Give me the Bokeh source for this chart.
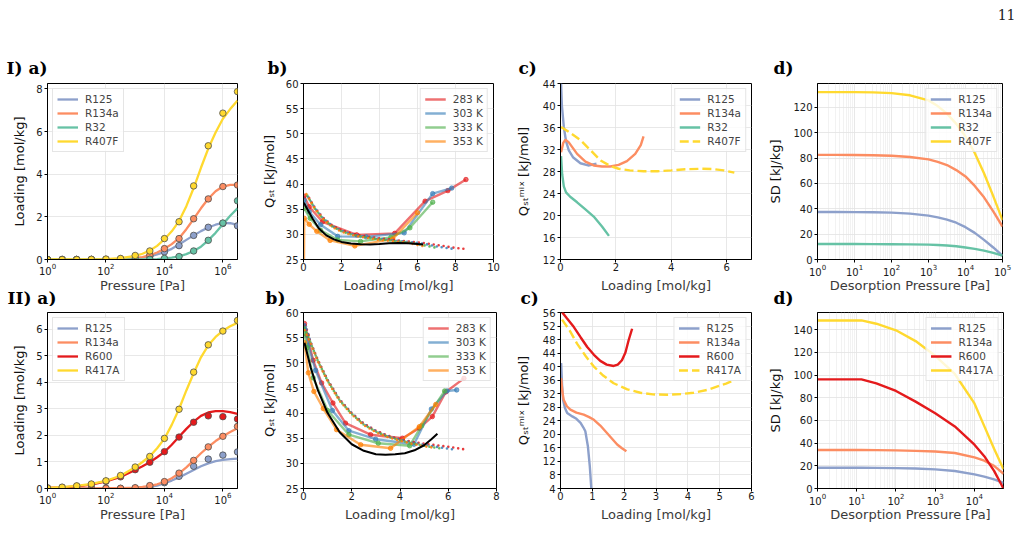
from bokeh.plotting import figure
from bokeh.models import Range1d, FixedTicker, Legend, LegendItem
from bokeh.core.properties import value
from bokeh.layouts import row, column
from bokeh.embed import file_html
from bokeh.resources import INLINE

FONT = "DejaVu Sans"
SERIF = "DejaVu Serif"

C_R125 = "#8da0cb"
C_R134A = "#fc8d62"
C_R32 = "#66c2a5"
C_BLEND = "#ffd92f"
C_R600 = "#e41a1c"
TEMP_COLORS = ["#e41a1c", "#377eb8", "#4daf4a", "#ff7f00"]
TEMP_LABELS = ["283 K", "303 K", "333 K", "353 K"]

# ---------------- isotherms (a) ----------------
LOGP_PTS = [0, 0.5, 1, 1.5, 2, 2.5, 3, 3.5, 4, 4.5, 5, 5.5, 6, 6.5]
LOGP_FIT = [0, 0.5, 1, 1.5, 2, 2.5, 3, 3.25, 3.5, 3.75, 4, 4.25, 4.5, 4.75,
            5, 5.25, 5.5, 5.75, 6, 6.25, 6.5]

I_R125_PTS = [0, 0, 0, 0, 0, 0.01, 0.04, 0.14, 0.36, 0.65, 1.13, 1.51, 1.69, 1.58]
I_R125_FIT = [0, 0, 0, 0, 0, 0.01, 0.05, 0.09, 0.15, 0.24, 0.35, 0.5, 0.7, 0.92,
              1.13, 1.33, 1.5, 1.63, 1.72, 1.7, 1.62]
I_R134A_PTS = [0, 0, 0, 0, 0, 0.01, 0.05, 0.2, 0.51, 0.98, 1.91, 2.84, 3.42, 3.49]
I_R134A_FIT = [0, 0, 0, 0, 0.01, 0.02, 0.06, 0.11, 0.2, 0.33, 0.5, 0.72, 1.0, 1.42,
               1.9, 2.4, 2.85, 3.2, 3.42, 3.5, 3.5]
I_R32_PTS = [0, 0, 0, 0, 0, 0, 0, 0.01, 0.05, 0.14, 0.40, 0.90, 1.71, 2.75]
I_R32_FIT = [0, 0, 0, 0, 0, 0, 0, 0, 0.01, 0.02, 0.05, 0.09, 0.15, 0.25,
             0.4, 0.6, 0.9, 1.25, 1.65, 2.05, 2.4]
I_R407F_PTS = [0, 0, 0, 0.01, 0.02, 0.05, 0.19, 0.40, 0.98, 1.77, 3.45, 5.33, 6.86, 7.87]
I_R407F_FIT = [0, 0, 0.01, 0.01, 0.02, 0.06, 0.17, 0.27, 0.42, 0.64, 0.95, 1.32, 1.8, 2.5,
               3.35, 4.3, 5.2, 5.95, 6.6, 7.05, 7.45]

II_R125_PTS = [0, 0, 0, 0, 0, 0, 0.01, 0.05, 0.22, 0.46, 0.84, 1.11, 1.26, 1.38]
II_R125_FIT = [0, 0, 0, 0, 0, 0, 0.01, 0.03, 0.06, 0.11, 0.2, 0.3, 0.42, 0.56,
               0.7, 0.84, 0.95, 1.03, 1.08, 1.11, 1.13]
II_R134A_PTS = [0, 0, 0, 0, 0.01, 0.01, 0.03, 0.11, 0.26, 0.58, 1.06, 1.57, 1.97, 2.34]
II_R134A_FIT = [0, 0, 0, 0, 0.01, 0.01, 0.03, 0.06, 0.1, 0.16, 0.25, 0.39, 0.57, 0.8,
                1.06, 1.33, 1.57, 1.79, 1.97, 2.13, 2.27]
II_R600_PTS = [0.02, 0.04, 0.08, 0.15, 0.27, 0.44, 0.71, 0.99, 1.39, 1.94, 2.5, 2.74, 2.71, 2.62]
II_R600_FIT = [0.02, 0.04, 0.08, 0.15, 0.27, 0.44, 0.7, 0.84, 0.99, 1.18, 1.38, 1.65, 1.95, 2.25,
               2.52, 2.74, 2.87, 2.92, 2.92, 2.88, 2.82]
II_R417A_PTS = [0.02, 0.05, 0.1, 0.17, 0.29, 0.49, 0.81, 1.21, 1.89, 2.99, 4.39, 5.42, 5.94, 6.34]
II_R417A_FIT = [0.02, 0.05, 0.1, 0.17, 0.29, 0.48, 0.8, 1.0, 1.22, 1.52, 1.88, 2.4, 3.0, 3.7,
                4.35, 4.95, 5.4, 5.72, 5.95, 6.12, 6.25]

# ---------------- isosteric heats (b) ----------------
I_T283_X = [0.03, 0.3, 1.0, 2.8, 4.8, 6.4, 7.6, 8.55]
I_T283_Y = [37.6, 35.5, 32.5, 29.9, 30.2, 36.6, 38.7, 40.9]
I_T303_X = [0.03, 0.3, 0.9, 1.8, 3.3, 5.3, 6.8, 7.8]
I_T303_Y = [36.8, 34.5, 31.9, 29.6, 29.5, 30.3, 38.1, 39.2]
I_T333_X = [0.03, 0.35, 0.9, 1.8, 3.0, 4.6, 5.6, 6.8]
I_T333_Y = [35.2, 33.2, 30.8, 28.9, 28.6, 29.4, 31.3, 36.4]
I_T353_X = [0.01, 0.04, 0.3, 0.7, 1.4, 2.7, 4.7, 6.0]
I_T353_Y = [15.0, 33.2, 32.0, 30.6, 28.8, 27.7, 29.1, 34.3]

I_F283_X = [0.3, 0.6, 1.0, 1.5, 2.0, 2.5, 3.0, 3.5, 4.0, 4.5, 5.0, 5.5, 6.0, 6.5, 7.0, 7.5, 8.0, 8.5]
I_F283_Y = [37.2, 35.3, 33.4, 31.8, 30.8, 30.2, 29.8, 29.5, 29.2, 29.0, 28.8, 28.6, 28.4, 28.2,
            27.9, 27.6, 27.3, 27.1]
I_F303_X = [0.25, 0.6, 1.0, 1.5, 2.0, 2.5, 3.0, 3.5, 4.0, 4.5, 5.0, 5.5, 6.0, 6.5, 7.0, 7.5, 7.9]
I_F303_Y = [37.4, 35.2, 33.3, 31.7, 30.7, 30.1, 29.7, 29.4, 29.1, 28.9, 28.7, 28.5, 28.3, 28.0,
            27.6, 27.3, 27.1]
I_F333_X = [0.2, 0.6, 1.0, 1.5, 2.0, 2.5, 3.0, 3.5, 4.0, 4.5, 5.0, 5.5, 6.0, 6.5, 6.9]
I_F333_Y = [37.7, 35.1, 33.2, 31.6, 30.6, 30.0, 29.6, 29.3, 29.0, 28.8, 28.6, 28.4, 28.1, 27.7, 27.4]
I_F353_X = [0.15, 0.6, 1.0, 1.5, 2.0, 2.5, 3.0, 3.5, 4.0, 4.5, 5.0, 5.5, 6.0, 6.4]
I_F353_Y = [38.0, 35.0, 33.1, 31.5, 30.5, 29.9, 29.5, 29.2, 28.9, 28.7, 28.5, 28.3, 27.9, 27.6]

I_MEAN_X = [0.02, 0.2, 0.5, 0.8, 1.2, 1.6, 2.0, 2.5, 3.0, 3.5, 4.0, 4.5, 5.0, 5.5, 6.0, 6.3]
I_MEAN_Y = [36.3, 35.0, 33.0, 31.2, 29.8, 29.0, 28.5, 28.2, 28.05, 28.0, 28.1, 28.25, 28.3,
            28.25, 28.1, 28.0]

II_T283_X = [0.04, 0.15, 0.4, 0.75, 1.22, 1.74, 2.78, 4.1, 4.8, 5.34, 5.9, 6.65]
II_T283_Y = [57.8, 55.5, 50.5, 46.0, 42.0, 38.0, 35.7, 35.0, 37.0, 39.3, 44.2, 46.9]
II_T303_X = [0.04, 0.2, 0.5, 1.2, 1.88, 2.99, 4.58, 5.3, 5.95, 6.35]
II_T303_Y = [57.2, 53.5, 48.5, 40.5, 36.5, 34.8, 33.8, 40.8, 44.4, 44.6]
II_T333_X = [0.04, 0.15, 0.4, 1.0, 1.88, 3.1, 4.4, 4.9, 5.85]
II_T333_Y = [55.8, 53.0, 47.0, 40.5, 35.7, 34.0, 33.5, 37.5, 44.4]
II_T353_X = [0.04, 0.2, 0.43, 0.82, 1.37, 2.37, 3.61, 4.8, 5.48]
II_T353_Y = [54.0, 48.0, 44.3, 40.9, 36.7, 33.7, 33.0, 37.3, 41.7]

II_F283_X = [0.08, 0.3, 0.6, 1.0, 1.5, 2.0, 2.5, 3.0, 3.5, 4.0, 4.5, 5.0, 5.5, 6.0, 6.65]
II_F283_Y = [57.5, 54.0, 50.5, 46.6, 42.7, 40.0, 37.9, 36.5, 35.5, 34.8, 34.3, 33.9, 33.6, 33.3, 32.8]
II_F303_X = [0.06, 0.3, 0.6, 1.0, 1.5, 2.0, 2.5, 3.0, 3.5, 4.0, 4.5, 5.0, 5.5, 6.0, 6.35]
II_F303_Y = [57.6, 54.0, 50.4, 46.5, 42.6, 39.9, 37.8, 36.4, 35.4, 34.7, 34.1, 33.7, 33.3, 32.9, 32.7]
II_F333_X = [0.05, 0.3, 0.6, 1.0, 1.5, 2.0, 2.5, 3.0, 3.5, 4.0, 4.5, 5.0, 5.5, 5.8]
II_F333_Y = [57.0, 53.9, 50.3, 46.4, 42.5, 39.8, 37.7, 36.3, 35.3, 34.6, 34.0, 33.5, 33.1, 32.9]
II_F353_X = [0.05, 0.3, 0.6, 1.0, 1.5, 2.0, 2.5, 3.0, 3.5, 4.0, 4.5, 5.0, 5.4]
II_F353_Y = [56.5, 53.8, 50.2, 46.3, 42.4, 39.7, 37.6, 36.2, 35.2, 34.5, 33.9, 33.4, 33.1]

II_MEAN_X = [0.04, 0.3, 0.6, 1.0, 1.5, 2.0, 2.5, 3.0, 3.4, 3.8, 4.2, 4.6, 5.0, 5.3, 5.55]
II_MEAN_Y = [54.0, 49.0, 44.5, 40.0, 36.2, 33.8, 32.5, 31.8, 31.7, 31.8, 32.0, 32.6, 33.6, 34.8, 35.9]

# ---------------- mixture heats (c) ----------------
I_QM_R125_X = [0.02, 0.05, 0.12, 0.2, 0.3, 0.45, 0.72, 1.0, 1.3]
I_QM_R125_Y = [44.0, 40.0, 36.1, 33.5, 31.85, 30.6, 29.5, 29.1, 29.4]
I_QM_R134A_X = [0.02, 0.1, 0.18, 0.3, 0.6, 0.9, 1.2, 1.5, 1.8, 2.1, 2.4, 2.7, 2.9, 3.0]
I_QM_R134A_Y = [31.5, 33.2, 33.8, 33.3, 31.2, 29.8, 29.1, 28.9, 28.9, 29.2, 29.9, 31.2, 32.8, 34.4]
I_QM_R32_X = [0.02, 0.06, 0.12, 0.2, 0.35, 0.6, 0.9, 1.2, 1.5, 1.75]
I_QM_R32_Y = [30.8, 27.5, 25.3, 24.2, 23.4, 22.4, 21.1, 19.8, 18.0, 16.3]
I_QM_R407F_X = [0.02, 0.3, 0.72, 1.1, 1.45, 1.8, 2.1, 2.5, 3.0, 3.5, 4.0, 4.5, 5.07, 5.5, 5.9, 6.28]
I_QM_R407F_Y = [36.1, 35.2, 33.7, 31.8, 30.0, 29.0, 28.5, 28.2, 28.05, 28.05, 28.2, 28.4, 28.5,
                28.45, 28.2, 27.8]

II_QM_R125_X = [0.02, 0.05, 0.08, 0.14, 0.21, 0.37, 0.5, 0.63, 0.72, 0.78, 0.86, 0.92, 0.97]
II_QM_R125_Y = [41.1, 34.5, 30.2, 27.8, 26.3, 25.3, 24.6, 23.4, 22.0, 20.9, 16.5, 10.6, 3.8]
II_QM_R134A_X = [0.02, 0.06, 0.1, 0.2, 0.31, 0.5, 0.73, 0.9, 1.05, 1.25, 1.46, 1.62, 1.78, 1.93, 2.07]
II_QM_R134A_Y = [36.6, 32.5, 30.2, 28.3, 27.3, 26.4, 25.8, 25.1, 24.3, 22.6, 20.4, 18.7, 17.0, 15.9, 15.0]
II_QM_R600_X = [0.05, 0.2, 0.42, 0.63, 0.84, 1.05, 1.25, 1.45, 1.67, 1.8, 1.93, 2.04, 2.14, 2.25]
II_QM_R600_Y = [56.1, 54.3, 51.7, 48.7, 45.8, 43.5, 41.7, 40.6, 40.2, 40.6, 41.9, 44.2, 47.8, 51.2]
II_QM_R417A_X = [0.05, 0.3, 0.52, 0.8, 1.05, 1.35, 1.67, 2.1, 2.51, 2.9, 3.34, 3.8, 4.18, 4.6, 4.91, 5.2, 5.44]
II_QM_R417A_Y = [53.9, 50.5, 46.8, 43.0, 40.0, 37.3, 35.1, 33.3, 32.3, 31.8, 31.7, 31.9, 32.3, 33.1,
                 34.1, 35.0, 35.9]

# ---------------- sorption-desorption heat (d) ----------------
LOGPD_I = [0, 0.5, 1, 1.5, 2, 2.5, 3, 3.25, 3.5, 3.75, 4, 4.25, 4.5, 4.75, 5]
I_SD_R125 = [37.5, 37.5, 37.4, 37.3, 37.0, 36.2, 34.6, 33.2, 31.5, 29.0, 25.5, 21.0, 15.5, 9.5, 3.0]
I_SD_R134A = [82.5, 82.5, 82.4, 82.2, 81.8, 80.8, 79.0, 77.0, 74.5, 70.5, 65.5, 58.0, 49.0, 38.0, 26.0]
I_SD_R32 = [12.2, 12.2, 12.2, 12.1, 12.0, 11.9, 11.7, 11.4, 11.0, 10.4, 9.5, 8.4, 7.0, 5.2, 3.0]
I_SD_R407F = [132, 132, 132, 131.8, 131.2, 129.5, 125.5, 121, 115, 107, 97, 84, 68, 50, 31]

LOGPD_II = [0, 0.5, 1, 1.12, 1.5, 2, 2.5, 3, 3.5, 4, 4.25, 4.5, 4.74]
II_SD_R125 = [18.3, 18.3, 18.3, 18.3, 18.2, 18.0, 17.6, 16.9, 15.4, 12.5, 10.5, 8.0, 5.0]
II_SD_R134A = [33.9, 33.9, 33.9, 33.9, 33.8, 33.6, 33.2, 32.6, 31.3, 27.5, 24.5, 20.0, 13.0]
II_SD_R600 = [96.2, 96.2, 96.2, 96.2, 92.7, 86.0, 76.6, 66.4, 54.7, 38.6, 28.5, 15.5, 0.0]
II_SD_R417A = [148.2, 148.2, 148.2, 148.2, 145.3, 139.5, 130, 117, 101, 75, 55, 35, 17]

DECADE_MINORS = [m * 10 ** k for k in range(0, 5) for m in range(2, 10)]

# ---------------- page geometry ----------------
PAGE_W = 1021
COL_W = [250, 255, 257, 259]
SIDES_I = [(47, 13), (53, 12), (55, 11), (55, 19)]
SIDES_II = [(47, 13), (53, 9), (55, 11), (55, 18)]
FRAME_H = 177
PAD_TOP, PAD_BOTTOM = 6, 18
TOP_STRIP_H, MID_STRIP_H, BOTTOM_STRIP_H = 77, 28, 48


def frame_centers(sides):
    centers, x0 = [], 0
    for w, (l, r) in zip(COL_W, sides):
        centers.append(x0 + l + (w - l - r) / 2)
        x0 += w
    return centers


def frame_lefts(sides):
    lefts, x0 = [], 0
    for w, (l, _) in zip(COL_W, sides):
        lefts.append(x0 + l)
        x0 += w
    return lefts


def pa(logs):
    return [10 ** v for v in logs]


def base_fig(col, sides, xr, yr, xticks, yticks, xlog=False, ylabel="",
             ylabel_standoff=6, minor=None):
    left, right = sides[col]
    p = figure(width=COL_W[col], height=PAD_TOP + FRAME_H + PAD_BOTTOM,
               x_range=Range1d(*xr), y_range=Range1d(*yr),
               x_axis_type="log" if xlog else "linear", output_backend="svg",
               toolbar_location=None, tools="", title=None,
               min_border_left=left, min_border_right=right,
               min_border_top=PAD_TOP, min_border_bottom=PAD_BOTTOM)
    p.outline_line_color = "black"
    p.outline_line_width = 1
    p.outline_line_alpha = 1
    p.background_fill_color = "white"
    p.border_fill_color = "white"
    p.xaxis.ticker = FixedTicker(ticks=xticks, minor_ticks=minor or [])
    p.yaxis.ticker = FixedTicker(ticks=yticks)
    for ax in p.axis:
        ax.axis_line_color = "black"
        ax.major_tick_in = 0
        ax.major_tick_out = 3
        ax.minor_tick_line_color = None
        ax.major_label_text_font = FONT
        ax.major_label_text_font_size = "10px"
        ax.major_label_text_color = "#1a1a1a"
        ax.axis_label_text_font = FONT
        ax.axis_label_text_font_size = "13px"
        ax.axis_label_text_font_style = "normal"
        ax.axis_label_text_color = "#111111"
    p.xaxis.major_label_standoff = 0
    p.yaxis.major_label_standoff = 2
    p.yaxis.axis_label = ylabel
    p.yaxis.axis_label_standoff = ylabel_standoff
    p.grid.grid_line_color = "#e2e2e2"
    p.grid.grid_line_width = 0.8
    if minor:
        p.xgrid.minor_grid_line_color = "#e9e9e9"
        p.xgrid.minor_grid_line_width = 0.6
    return p


def text_strip(height, groups):
    """A full-width band holding free-standing text; y grows downwards in pixels."""
    s = figure(width=PAGE_W, height=height, x_range=Range1d(0, PAGE_W),
               y_range=Range1d(height, 0), output_backend="svg", toolbar_location=None,
               tools="", title=None, x_axis_location=None, y_axis_location=None,
               min_border=0)
    s.outline_line_color = None
    s.grid.visible = False
    s.background_fill_color = "white"
    s.border_fill_color = "white"
    for xs, ys, texts, (size, font, style, align, color) in groups:
        s.text(x=xs, y=ys, text=texts, text_font=value(font), text_font_size=value(size),
               text_font_style=style, text_align=align, text_baseline="middle",
               text_color=color)
    return s


def add_legend(p, items, loc):
    lg = Legend(items=[LegendItem(label=lab, renderers=[r]) for lab, r in items], location=loc)
    lg.margin = 5
    lg.padding = 4
    lg.spacing = 2
    lg.label_height = 12
    lg.glyph_height = 12
    lg.glyph_width = 21
    lg.label_standoff = 7
    lg.label_text_font = FONT
    lg.label_text_font_size = "10.5px"
    lg.border_line_color = "#cccccc"
    lg.border_line_width = 1
    lg.background_fill_alpha = 0.8
    p.add_layout(lg)


def isotherm_panel(p, series):
    items = []
    for name, color, fit, pts in series:
        r = p.line(pa(LOGP_FIT), fit, color=color, line_width=2.3)
        p.scatter(pa(LOGP_PTS), pts, size=6.5, fill_color=color, line_color="#4d4d4d",
                  line_width=0.8)
        items.append((name, r))
    add_legend(p, items, "top_left")


def qst_panel(p, solid, dotted, mean):
    items = []
    for (xs, ys), color, lab in zip(solid, TEMP_COLORS, TEMP_LABELS):
        r = p.line(xs, ys, color=color, line_width=2.4, line_alpha=0.62)
        p.scatter(xs, ys, size=4.5, color=color, alpha=0.65)
        items.append((lab, r))
    for (xs, ys), color in zip(dotted, TEMP_COLORS):
        p.line(xs, ys, color=color, line_width=2.6, line_alpha=0.85, line_dash="0 5",
               line_cap="round")
    p.line(mean[0], mean[1], color="black", line_width=2)
    add_legend(p, items, "top_right")


def mix_panel(p, series):
    items = []
    for name, color, xs, ys, dashed in series:
        r = p.line(xs, ys, color=color, line_width=2.4,
                   line_dash="9 4" if dashed else "solid")
        items.append((name, r))
    add_legend(p, items, "top_right")


def sd_panel(p, logs, series):
    items = []
    for name, color, ys in series:
        r = p.line(pa(logs), ys, color=color, line_width=2.4)
        items.append((name, r))
    add_legend(p, items, "top_right")


DECADES_A = [1, 1e2, 1e4, 1e6]
QST = "Qₛₜ [kJ/mol]"
QMIX = "Qₛₜᵐⁱˣ [kJ/mol]"

# ---- set I ----
ia = base_fig(0, SIDES_I, (1, 10 ** 6.5), (0, 8.25), DECADES_A, [0, 2, 4, 6, 8],
              xlog=True, ylabel="Loading [mol/kg]", ylabel_standoff=6)
isotherm_panel(ia, [("R125", C_R125, I_R125_FIT, I_R125_PTS),
                    ("R134a", C_R134A, I_R134A_FIT, I_R134A_PTS),
                    ("R32", C_R32, I_R32_FIT, I_R32_PTS),
                    ("R407F", C_BLEND, I_R407F_FIT, I_R407F_PTS)])

ib = base_fig(1, SIDES_I, (0, 10), (25, 60), [0, 2, 4, 6, 8, 10],
              list(range(25, 61, 5)), ylabel=QST, ylabel_standoff=6)
qst_panel(ib, [(I_T283_X, I_T283_Y), (I_T303_X, I_T303_Y), (I_T333_X, I_T333_Y), (I_T353_X, I_T353_Y)],
          [(I_F283_X, I_F283_Y), (I_F303_X, I_F303_Y), (I_F333_X, I_F333_Y), (I_F353_X, I_F353_Y)],
          (I_MEAN_X, I_MEAN_Y))

ic = base_fig(2, SIDES_I, (0, 6.9), (12, 44), [0, 2, 4, 6],
              list(range(12, 45, 4)), ylabel=QMIX, ylabel_standoff=9)
mix_panel(ic, [("R125", C_R125, I_QM_R125_X, I_QM_R125_Y, False),
               ("R134a", C_R134A, I_QM_R134A_X, I_QM_R134A_Y, False),
               ("R32", C_R32, I_QM_R32_X, I_QM_R32_Y, False),
               ("R407F", C_BLEND, I_QM_R407F_X, I_QM_R407F_Y, True)])

id_ = base_fig(3, SIDES_I, (1, 1e5), (0, 138.8), [1, 10, 1e2, 1e3, 1e4, 1e5],
               list(range(0, 121, 20)), xlog=True, ylabel="SD [kJ/kg]", ylabel_standoff=7,
               minor=DECADE_MINORS)
sd_panel(id_, LOGPD_I, [("R125", C_R125, I_SD_R125), ("R134a", C_R134A, I_SD_R134A),
                        ("R32", C_R32, I_SD_R32), ("R407F", C_BLEND, I_SD_R407F)])

# ---- set II ----
iia = base_fig(0, SIDES_II, (1, 10 ** 6.5), (0, 6.64), DECADES_A, list(range(0, 7)),
               xlog=True, ylabel="Loading [mol/kg]", ylabel_standoff=6)
isotherm_panel(iia, [("R125", C_R125, II_R125_FIT, II_R125_PTS),
                     ("R134a", C_R134A, II_R134A_FIT, II_R134A_PTS),
                     ("R600", C_R600, II_R600_FIT, II_R600_PTS),
                     ("R417A", C_BLEND, II_R417A_FIT, II_R417A_PTS)])

iib = base_fig(1, SIDES_II, (0, 8), (25, 60), [0, 2, 4, 6, 8],
               list(range(25, 61, 5)), ylabel=QST, ylabel_standoff=6)
qst_panel(iib, [(II_T283_X, II_T283_Y), (II_T303_X, II_T303_Y), (II_T333_X, II_T333_Y),
                (II_T353_X, II_T353_Y)],
          [(II_F283_X, II_F283_Y), (II_F303_X, II_F303_Y), (II_F333_X, II_F333_Y),
           (II_F353_X, II_F353_Y)],
          (II_MEAN_X, II_MEAN_Y))

iic = base_fig(2, SIDES_II, (0, 6), (4, 56), list(range(0, 7)),
               list(range(4, 57, 4)), ylabel=QMIX, ylabel_standoff=9)
mix_panel(iic, [("R125", C_R125, II_QM_R125_X, II_QM_R125_Y, False),
                ("R134a", C_R134A, II_QM_R134A_X, II_QM_R134A_Y, False),
                ("R600", C_R600, II_QM_R600_X, II_QM_R600_Y, False),
                ("R417A", C_BLEND, II_QM_R417A_X, II_QM_R417A_Y, True)])

iid = base_fig(3, SIDES_II, (1, 10 ** 4.74), (0, 155.2), [1, 10, 1e2, 1e3, 1e4],
               list(range(0, 141, 20)), xlog=True, ylabel="SD [kJ/kg]", ylabel_standoff=7,
               minor=DECADE_MINORS)
sd_panel(iid, LOGPD_II, [("R125", C_R125, II_SD_R125), ("R134a", C_R134A, II_SD_R134A),
                         ("R600", C_R600, II_SD_R600), ("R417A", C_BLEND, II_SD_R417A)])

# ---- free text: page number, panel tags and x-axis titles ----
XLABELS = ["Pressure [Pa]", "Loading [mol/kg]", "Loading [mol/kg]", "Desorption Pressure [Pa]"]
TAG_STYLE = ("17px", SERIF, "bold", "left", "black")
XL_STYLE = ("13px", FONT, "normal", "center", "#3a3a3a")
PAGE_STYLE = ("14px", SERIF, "normal", "right", "#222222")

lefts_i, lefts_ii = frame_lefts(SIDES_I), frame_lefts(SIDES_II)
TAG_DX_I, TAGS_I = [-41, -36, -42, -44], ["I) a)", "b)", "c)", "d)"]
TAG_DX_II, TAGS_II = [-40, -38, -40, -44], ["II) a)", "b)", "c)", "d)"]

top = text_strip(TOP_STRIP_H, [
    ([PAGE_W - 6], [14], ["11"], PAGE_STYLE),
    ([lx + dx for lx, dx in zip(lefts_i, TAG_DX_I)], [67] * 4, TAGS_I, TAG_STYLE),
])
mid = text_strip(MID_STRIP_H, [
    (frame_centers(SIDES_I), [7] * 4, XLABELS, XL_STYLE),
    ([lx + dx for lx, dx in zip(lefts_ii, TAG_DX_II)], [19] * 4, TAGS_II, TAG_STYLE),
])
bottom = text_strip(BOTTOM_STRIP_H, [
    (frame_centers(SIDES_II), [7] * 4, XLABELS, XL_STYLE),
])

page = column(top, row(ia, ib, ic, id_), mid, row(iia, iib, iic, iid), bottom)
open("out.html", "w").write(file_html(page, INLINE, title="Refrigerant adsorption"))
